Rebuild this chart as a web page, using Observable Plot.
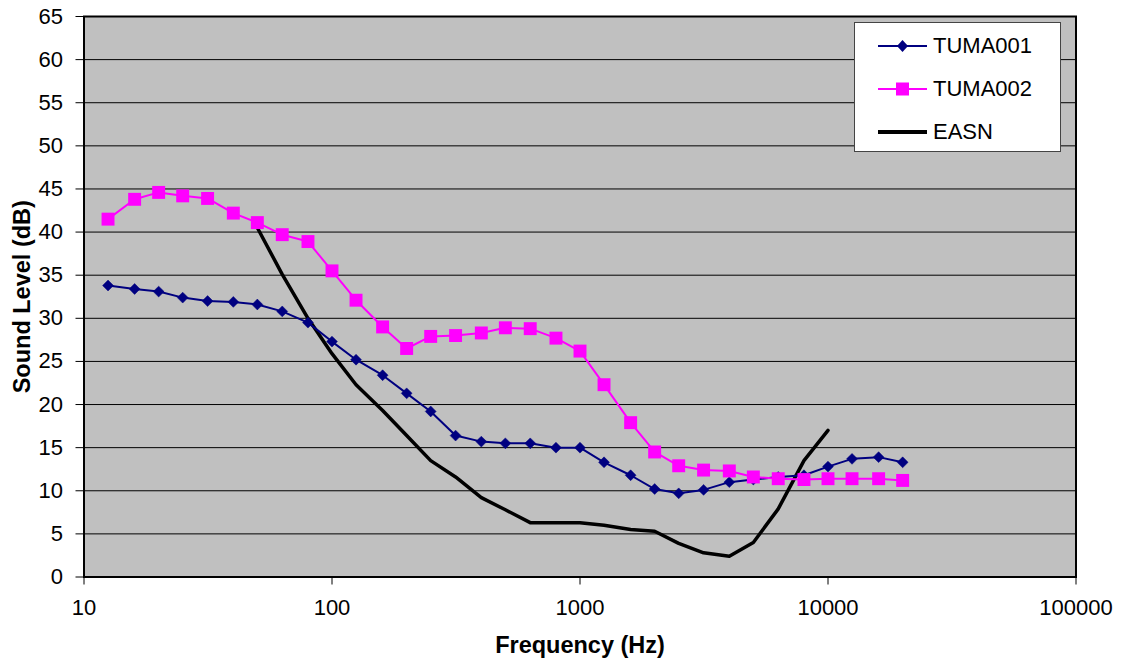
<!DOCTYPE html>
<html>
<head>
<meta charset="utf-8">
<script src="https://cdn.jsdelivr.net/npm/d3@7"></script>
<script src="https://cdn.jsdelivr.net/npm/@observablehq/plot@0.6"></script>
<style>
  html, body { margin: 0; padding: 0; background: #fff; }
  #wrap { position: relative; width: 1121px; height: 661px; font-family: "Liberation Sans", Arial, sans-serif; }
  #wrap svg [aria-label="x-axis label"], #wrap svg [aria-label="y-axis label"] { font-weight: bold; font-size: 23.5px; }
  #legend {
    position: absolute; left: 854px; top: 22px; width: 207px; height: 130px;
    background: #fff; border: 1px solid #444; box-sizing: border-box;
    font-size: 22px; color: #000;
  }
  .row { position: absolute; left: 23px; height: 30px; display: flex; align-items: center; }
  .row svg { display: block; margin-right: 5px; }
</style>
</head>
<body>
<div id="wrap">
  <div id="chart"></div>
  <div id="legend"></div>
</div>
<script>
// One-third-octave band centre frequencies (Hz)
const freq = [12.5, 16, 20, 25, 31.5, 40, 50, 63, 80, 100, 125, 160, 200, 250, 315, 400, 500,
  630, 800, 1000, 1250, 1600, 2000, 2500, 3150, 4000, 5000, 6300, 8000, 10000, 12500, 16000, 20000];

// Measured sound levels (dB)
const tuma001 = [33.8, 33.4, 33.1, 32.4, 32.0, 31.9, 31.6, 30.8, 29.5, 27.3, 25.2, 23.4, 21.3, 19.2,
  16.4, 15.7, 15.5, 15.5, 15.0, 15.0, 13.3, 11.8, 10.2, 9.7, 10.1, 11.0, 11.3, 11.6, 11.8, 12.8, 13.7, 13.9, 13.3];
const tuma002 = [41.5, 43.8, 44.6, 44.2, 43.9, 42.2, 41.1, 39.7, 38.9, 35.5, 32.1, 29.0, 26.5, 27.9,
  28.0, 28.3, 28.9, 28.8, 27.7, 26.2, 22.3, 17.9, 14.5, 12.9, 12.4, 12.3, 11.6, 11.4, 11.3, 11.4, 11.4, 11.4, 11.2];

// EASN reference curve, 50 Hz to 10 kHz
const easnFreq = [50, 63, 80, 100, 125, 160, 200, 250, 315, 400, 500, 630, 800, 1000, 1250, 1600,
  2000, 2500, 3150, 4000, 5000, 6300, 8000, 10000];
const easn = [40.5, 35.1, 30.0, 25.9, 22.3, 19.3, 16.4, 13.5, 11.6, 9.2, 7.8, 6.3, 6.3, 6.3, 6.0, 5.5,
  5.3, 3.9, 2.8, 2.4, 4.0, 7.9, 13.5, 17.0];

// Axis ticks and series names
const xTicks = [10, 100, 1000, 10000, 100000];
const yTicks = [0, 5, 10, 15, 20, 25, 30, 35, 40, 45, 50, 55, 60, 65];
const seriesNames = ["TUMA001", "TUMA002", "EASN"];

const colors = { TUMA001: "#000080", TUMA002: "#FF00FF", EASN: "#000000" };

const s1 = freq.map((f, i) => ({ f, v: tuma001[i] }));
const s2 = freq.map((f, i) => ({ f, v: tuma002[i] }));
const s3 = easnFreq.map((f, i) => ({ f, v: easn[i] }));

const chart = Plot.plot({
  width: 1121,
  height: 661,
  marginLeft: 83.5,
  marginRight: 45.5,
  marginTop: 16,
  marginBottom: 84.5,
  style: { fontFamily: "Liberation Sans, Arial, sans-serif", fontSize: "22px", color: "#000", background: "#fff" },
  x: { type: "log", domain: [10, 100000] },
  y: { domain: [0, 65] },
  marks: [
    Plot.frame({ fill: "#C0C0C0" }),
    Plot.gridY(yTicks, { stroke: "#000", strokeOpacity: 1, strokeWidth: 1 }),
    Plot.line(s3, { x: "f", y: "v", stroke: colors.EASN, strokeWidth: 3.5 }),
    Plot.line(s1, { x: "f", y: "v", stroke: colors.TUMA001, strokeWidth: 2 }),
    Plot.dot(s1, { x: "f", y: "v", symbol: "diamond2", r: 4.9, fill: colors.TUMA001, stroke: colors.TUMA001, strokeWidth: 0.5 }),
    Plot.line(s2, { x: "f", y: "v", stroke: colors.TUMA002, strokeWidth: 2 }),
    Plot.dot(s2, { x: "f", y: "v", symbol: "square", r: 7.3, fill: colors.TUMA002, stroke: "none" }),
    Plot.frame({ stroke: "#000", strokeWidth: 2 }),
    Plot.axisY({ ticks: yTicks, tickSize: 8, tickPadding: 13, stroke: "#000",
      label: "Sound Level (dB)", labelAnchor: "center", labelArrow: "none", labelOffset: 71 }),
    Plot.axisX({ ticks: xTicks, tickFormat: d3.format("d"), tickSize: 8, tickPadding: 14, stroke: "#000",
      label: "Frequency (Hz)", labelAnchor: "center", labelArrow: "none", labelOffset: 76 })
  ]
});
document.getElementById("chart").appendChild(chart);

// Legend
const legend = document.getElementById("legend");
seriesNames.forEach((name, i) => {
  const row = document.createElement("div");
  row.className = "row";
  row.style.top = (8 + i * 43) + "px";
  let marker = "";
  if (name === "TUMA001") marker = `<path d="M24.5,9 L30,15 L24.5,21 L19,15 Z" fill="${colors[name]}"/>`;
  if (name === "TUMA002") marker = `<rect x="18" y="8.5" width="13" height="13" fill="${colors[name]}"/>`;
  const sw = name === "EASN" ? 4 : 2;
  row.innerHTML = `<svg width="50" height="30"><line x1="0" y1="15" x2="49" y2="15" stroke="${colors[name]}" stroke-width="${sw}"/>${marker}</svg><span>${name}</span>`;
  legend.appendChild(row);
});
</script>
</body>
</html>
